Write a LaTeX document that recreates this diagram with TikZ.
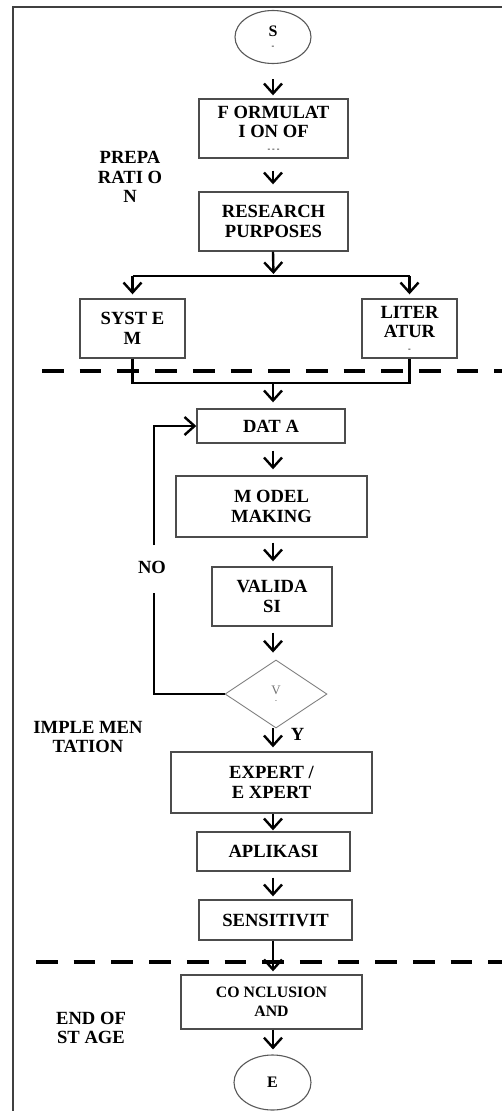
\documentclass[tikz,border=0pt]{standalone}
\usepackage{fontspec}
\setmainfont{Liberation Serif}
\usetikzlibrary{arrows.meta,shapes.geometric,calc}
\begin{document}
\begin{tikzpicture}[x=1pt,y=-1pt,
  txt/.style={font=\bfseries\fontsize{18.6}{19.5}\selectfont, align=center, inner sep=0pt},
  box/.style={txt, draw=black!70, line width=1.4pt},
  term/.style={txt, ellipse, draw=black!65, line width=1.1pt, font=\bfseries\fontsize{16}{15}\selectfont},
  dec/.style={diamond, draw=black!50, line width=0.9pt, inner sep=0pt, align=center,
    font=\fontsize{13}{12}\selectfont, text=black!55},
  conn/.style={line width=2.4pt, black},
  arr/.style={conn, -{Straight Barb[length=10pt,width=18pt]}},
  divider/.style={line width=3.6pt, dash pattern=on 21.7pt off 16pt},
  frame/.style={line width=2pt, black!75}
]
\useasboundingbox (0,0) rectangle (502,1111);

% frame
\draw[frame] (13,1112) -- (13,6.5) -- (503,6.5);

% dividers
\draw[divider] (42,371) -- (503,371);
\draw[divider] (36,962) -- (503,962);

% spine
\coordinate (spine) at (273,0);

% nodes
\node[term, minimum width=76pt, minimum height=53pt] (S) at (273,37) {S\\[-3pt]{\fontsize{8}{8}\selectfont -}};
\node[box, minimum width=149pt, minimum height=59pt] (F) at (273.5,128.5) {F ORMULAT\\I ON OF\\[-6pt]{\fontsize{8}{8}\selectfont - - -}};
\node[box, minimum width=149pt, minimum height=59pt] (R) at (273.5,221.5) {RESEARCH\\PURPOSES};
\node[box, minimum width=105pt, minimum height=59pt] (SYS) at (132.5,328.5) {SYST E\\M};
\node[box, minimum width=95pt, minimum height=59pt] (LIT) at (409.5,328.5) {LITER\\ATUR\\[-6pt]{\fontsize{8}{8}\selectfont -}};
\node[box, minimum width=148pt, minimum height=34pt] (DATA) at (271,426) {DAT A};
\node[box, minimum width=191pt, minimum height=61pt] (MOD) at (271.5,506.5) {M ODEL\\MAKING};
\node[box, minimum width=120pt, minimum height=59pt] (VAL) at (272,596.5) {VALIDA\\SI};
\node[dec, minimum width=102pt, minimum height=68pt, aspect=1.5] (D) at (276,694) {V\\[-4pt]{\fontsize{7}{7}\selectfont -}};
\node[box, minimum width=201pt, minimum height=61pt] (EXP) at (271.5,782.5) {EXPERT /\\E XPERT};
\node[box, minimum width=153pt, minimum height=39pt] (APL) at (273.5,851.5) {APLIKASI};
\node[box, minimum width=153pt, minimum height=40pt] (SEN) at (275.5,920) {SENSITIVIT};
\node[box, minimum width=181pt, minimum height=54pt, font=\bfseries\fontsize{15.8}{19}\selectfont] (CON) at (271.5,1002) {CO NCLUSION\\AND};
\node[term, minimum width=77pt, minimum height=55pt] (E) at (272.5,1082.5) {E};

% labels
\node[txt] (PREP) at (130,177) {PREPA\\RATI O\\N};
\node[txt] (IMPL) at (88,737) {IMPLE MEN\\TATION};
\node[txt] (END) at (91,1028) {END OF\\ST AGE};
\node[txt] (NO) at (152,567) {NO};
\node[txt] (Y) at (297.5,734.5) {Y};

% helper coordinates
\coordinate (split) at (273.5,276);
\coordinate (merge) at (273,383);
\coordinate (nobot) at (154,593);
\coordinate (notop) at (154,545);

% main arrows
\draw[arr, shorten <=15pt, shorten >=3pt] (S.south -| spine) -- (F.north -| spine);
\draw[arr, shorten <=12pt, shorten >=7pt] (F.south -| spine) -- (R.north -| spine);
\draw[arr, shorten >=2pt] (R.south -| spine) -- (split);
\draw[conn] (split -| SYS.north) -- (split -| LIT.north);
\draw[arr, shorten >=4pt] (split -| SYS.north) -- (SYS.north);
\draw[arr, shorten >=4pt] (split -| LIT.north) -- (LIT.north);
\draw[conn] (SYS.south) -- (merge -| SYS.south) -- (merge -| LIT.south) -- (LIT.south);
\draw[arr, shorten >=6pt] (merge) -- (DATA.north -| spine);
\draw[arr, shorten <=7pt, shorten >=6pt] (DATA.south -| spine) -- (MOD.north -| spine);
\draw[arr, shorten <=5pt, shorten >=5pt] (MOD.south -| spine) -- (VAL.north -| spine);
\draw[arr, shorten <=6pt, shorten >=7pt] (VAL.south -| spine) -- (D.north -| spine);
\draw[arr, shorten >=4pt] (D.south -| spine) -- (EXP.north -| spine);
\draw[arr, shorten >=1pt] (EXP.south -| spine) -- (APL.north -| spine);
\draw[arr, shorten <=6pt, shorten >=3pt] (APL.south -| spine) -- (SEN.north -| spine);
\draw[arr, shorten >=3pt] (SEN.south -| spine) -- (CON.north -| spine);
\draw[arr, shorten >=5pt] (CON.south -| spine) -- (E.north -| spine);

% NO loop
\draw[conn] (D.west) -| (nobot);
\draw[arr] (notop) |- (DATA.west);
\end{tikzpicture}
\end{document}
